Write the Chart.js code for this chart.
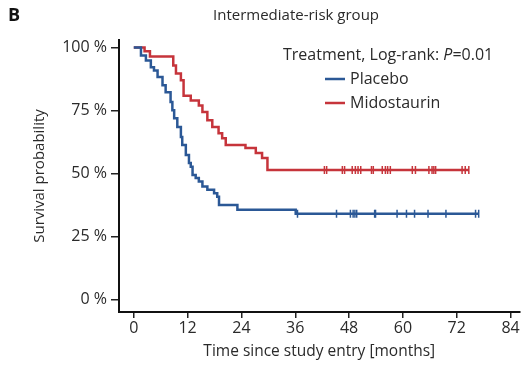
<!DOCTYPE html>
<html>
<head>
<meta charset="utf-8">
<script src="https://cdn.jsdelivr.net/npm/chart.js@4"></script>
<style>
  html, body { margin: 0; padding: 0; background: #fff; }
  #wrap { width: 525px; height: 374px; position: relative; }
</style>
</head>
<body>
<div id="wrap"><canvas id="kmChart"></canvas></div>
<script>
// Kaplan-Meier steps (months, survival %)
const placeboTime = [0, 1.6, 2.7, 3.8, 4.5, 5.3, 6.4, 7.1, 8.2, 8.6, 9.0, 9.7, 10.5, 10.8, 11.6, 12.3, 12.7, 13.1, 13.8, 14.5, 15.3, 16.4, 17.9, 18.6, 19.0, 23.1, 36.1, 76.9];
const placeboSurv = [100, 96.8, 94.9, 92.2, 90.9, 88.3, 85.0, 82.3, 78.4, 75.1, 71.9, 68.5, 64.5, 61.3, 57.3, 54.2, 52.7, 49.4, 48.2, 46.8, 44.8, 43.5, 42.2, 40.8, 37.5, 35.6, 34.0, 34.0];
const placeboCensor = [36.5, 45.2, 48.3, 48.9, 49.3, 49.7, 53.7, 53.9, 58.7, 60.8, 62.6, 65.6, 69.6, 76.2, 76.9];

const midoTime = [0, 2.4, 3.6, 8.8, 9.4, 10.5, 11.1, 12.7, 14.5, 15.3, 16.4, 17.5, 18.9, 19.7, 20.5, 24.9, 27.2, 28.6, 29.8, 74.7];
const midoSurv = [100, 98.5, 96.4, 92.9, 89.7, 87.0, 80.9, 79.0, 77.0, 74.4, 71.1, 68.5, 66.0, 64.0, 61.3, 60.1, 58.1, 56.1, 51.4, 51.4];
const midoCensor = [42.5, 43.0, 46.5, 47.0, 48.7, 49.4, 50.0, 50.6, 53.0, 53.4, 55.4, 56.1, 56.6, 57.2, 62.1, 62.8, 65.8, 66.5, 66.9, 67.3, 73.2, 73.9, 74.7];

const xTicks = [0, 12, 24, 36, 48, 60, 72, 84];
const yTicks = [0, 25, 50, 75, 100];

const blue = '#2b5896';
const red = '#c6343b';
const textCol = '#2a2a2a';
const FONT = "'Open Sans', 'Noto Sans', sans-serif";

function toPoints(t, s) {
  return t.map((v, i) => ({x: v, y: s[i]}));
}

// survival level at time t for the censor ticks
function levelAt(t, times, surv) {
  let lv = surv[0];
  for (let i = 0; i < times.length; i++) {
    if (times[i] <= t) lv = surv[i];
  }
  return lv;
}

function censorPoints(cens, times, surv) {
  return cens.map(c => ({x: c, y: levelAt(c, times, surv)}));
}

const textPlugin = {
  id: 'textPlugin',
  afterDraw(chart) {
    const ctx = chart.ctx;
    ctx.save();
    ctx.textBaseline = 'middle';
    ctx.fillStyle = '#111';
    ctx.font = "bold 18px " + FONT;
    ctx.textAlign = 'left';
    ctx.fillText('B', 8, 16);

    ctx.fillStyle = textCol;
    ctx.font = "15px " + FONT;
    ctx.fillText('Intermediate-risk group', 213, 16);

    // legend header
    ctx.font = "16px " + FONT;
    let x = 283;
    const y0 = 55;
    const s1 = 'Treatment, Log-rank: ';
    ctx.fillText(s1, x, y0);
    x += ctx.measureText(s1).width;
    ctx.font = "italic 16px " + FONT;
    ctx.fillText('P', x, y0);
    x += ctx.measureText('P').width;
    ctx.font = "16px " + FONT;
    ctx.fillText('=0.01', x, y0);

    // legend entries
    const entries = [
      {label: chart.data.datasets[0].label, color: blue, y: 79},
      {label: chart.data.datasets[1].label, color: red, y: 103}
    ];
    entries.forEach(e => {
      ctx.strokeStyle = e.color;
      ctx.lineWidth = 2.5;
      ctx.beginPath();
      ctx.moveTo(325, e.y);
      ctx.lineTo(345, e.y);
      ctx.stroke();
      ctx.fillStyle = textCol;
      ctx.fillText(e.label, 350, e.y);
    });
    ctx.restore();
  }
};

new Chart(document.getElementById('kmChart'), {
  type: 'scatter',
  data: {
    datasets: [
      {
        label: 'Placebo',
        data: toPoints(placeboTime, placeboSurv),
        showLine: true,
        stepped: true,
        borderColor: blue,
        borderWidth: 2.5,
        pointRadius: 0
      },
      {
        label: 'Midostaurin',
        data: toPoints(midoTime, midoSurv),
        showLine: true,
        stepped: true,
        borderColor: red,
        borderWidth: 2.5,
        pointRadius: 0
      },
      {
        label: 'Placebo censored',
        data: censorPoints(placeboCensor, placeboTime, placeboSurv),
        showLine: false,
        pointStyle: 'line',
        rotation: 90,
        pointRadius: 4,
        borderColor: blue,
        borderWidth: 1.5
      },
      {
        label: 'Midostaurin censored',
        data: censorPoints(midoCensor, midoTime, midoSurv),
        showLine: false,
        pointStyle: 'line',
        rotation: 90,
        pointRadius: 4,
        borderColor: red,
        borderWidth: 1.5
      }
    ]
  },
  options: {
    responsive: true,
    maintainAspectRatio: false,
    animation: false,
    layout: {
      padding: {left: 27, right: 5, top: 40, bottom: 0}
    },
    plugins: {
      legend: { display: false },
      tooltip: { enabled: false },
      title: { display: false }
    },
    scales: {
      x: {
        type: 'linear',
        min: -3.3,
        max: 86,
        afterBuildTicks: (scale) => { scale.ticks = xTicks.map(v => ({value: v})); },
        afterFit: (scale) => { scale.height = 62; },
        border: { display: true, color: '#111', width: 2 },
        grid: { drawOnChartArea: false, drawTicks: true, tickLength: 6, color: '#222', lineWidth: 1.5 },
        ticks: { color: textCol, font: {family: FONT, size: 16}, padding: 1, maxRotation: 0 },
        title: {
          display: true,
          text: 'Time since study entry [months]',
          color: textCol,
          font: {family: FONT, size: 15.5},
          padding: {top: 0, bottom: 13}
        }
      },
      y: {
        min: -5,
        max: 103,
        afterBuildTicks: (scale) => { scale.ticks = yTicks.map(v => ({value: v})); },
        afterFit: (scale) => { scale.width = 92; },
        border: { display: true, color: '#111', width: 2 },
        grid: { drawOnChartArea: false, drawTicks: true, tickLength: 8, color: '#222', lineWidth: 1.5 },
        ticks: {
          color: textCol,
          font: {family: FONT, size: 16},
          padding: 4,
          callback: (v) => v + ' %'
        },
        title: {
          display: true,
          text: 'Survival probability',
          color: textCol,
          font: {family: FONT, size: 15},
          padding: {top: 4, bottom: 0}
        }
      }
    }
  },
  plugins: [textPlugin]
});
</script>
</body>
</html>
